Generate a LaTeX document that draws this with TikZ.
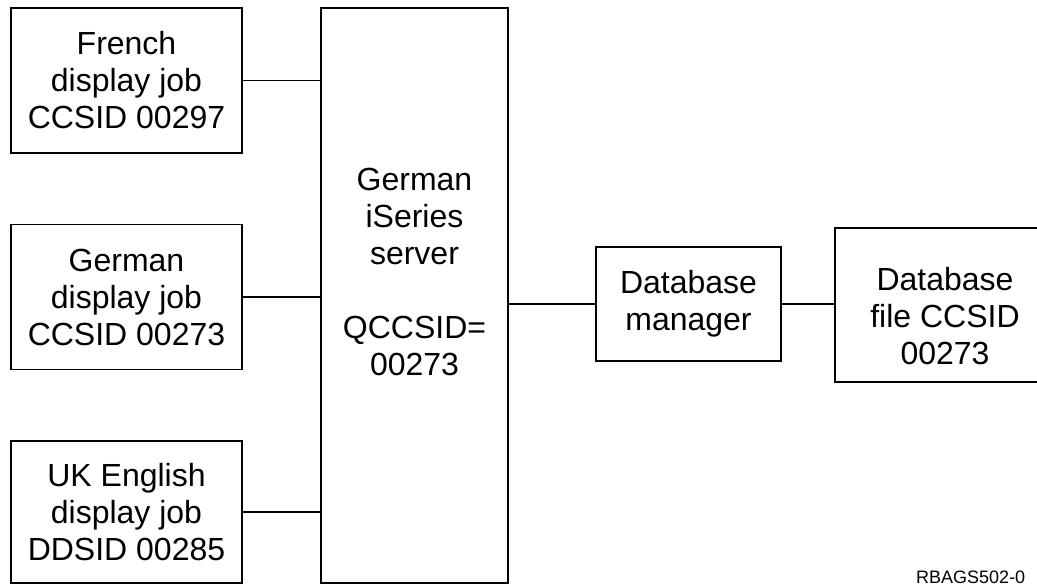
\documentclass[tikz,border=0pt]{standalone}
\usepackage{fontspec}
\setmainfont{Liberation Sans}
\usepackage{tikz}

\begin{document}
\begin{tikzpicture}[x=1pt,y=-1pt]
  \useasboundingbox (0,0) rectangle (1037,585);
  \clip (0,0) rectangle (1037,585);
  \tikzset{BoxStyle/.style = {rectangle,
                                 draw,
                                 line width     = 1.6pt,
                                 align          = center,
                                 inner sep      = 0pt,
                                 outer sep      = 0pt,
                                 font           = \fontsize{32}{37}\selectfont}}

  \tikzset{TextStyle/.style = {align          = center,
                                 inner sep      = 0pt,
                                 font           = \fontsize{32}{37}\selectfont}}

  \tikzset{EdgeStyle/.style   = {line width = 1.3pt}}

  \tikzset{TagStyle/.style   = {inner sep = 0pt,
                                 anchor    = base west,
                                 font      = \fontsize{18}{18}\selectfont}}

     \node[BoxStyle, minimum width=231, minimum height=145] (French) at (126.5,80.5) {French\\display job\\CCSID 00297};
     \node[BoxStyle, minimum width=231, minimum height=145] (GerJob) at (126.5,297) {German\\display job\\CCSID 00273};
     \node[BoxStyle, minimum width=231, minimum height=142] (UKJob) at (126.5,512) {UK English\\display job\\DDSID 00285};
     \node[BoxStyle, minimum width=187, minimum height=575] (Server) at (414.5,295.5) {};
     \node[TextStyle] (ServerText) at (414.5,272) {German\\iSeries\\server\\\mbox{}\\QCCSID=\\00273};
     \node[BoxStyle, minimum width=185, minimum height=114] (DbMan) at (688.5,304) {Database\\manager};
     \node[BoxStyle, minimum width=225, minimum height=154] (DbFile) at (947.5,305) {};
     \node[TextStyle] (DbFileText) at (945,316) {Database\\file CCSID\\00273};
     \node[TagStyle] (Tag) at (916,583) {RBAGS502-0};

     \draw[EdgeStyle](French.east) to (French.east -| Server.west);
     \draw[EdgeStyle](GerJob.east) to (GerJob.east -| Server.west);
     \draw[EdgeStyle](UKJob.east) to (UKJob.east -| Server.west);
     \draw[EdgeStyle](DbMan.west -| Server.east) to (DbMan.west);
     \draw[EdgeStyle](DbMan.east) to (DbFile.west |- DbMan.east);

  \end{tikzpicture}
\end{document}
